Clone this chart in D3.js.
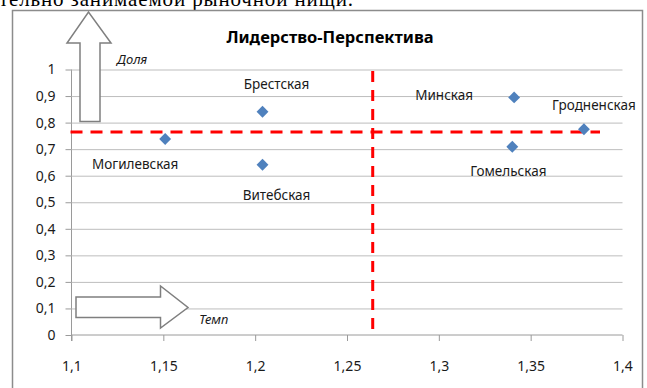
<!DOCTYPE html>
<html>
<head>
  <meta charset="UTF-8">
  <script src="https://cdnjs.cloudflare.com/ajax/libs/d3/7.8.5/d3.min.js"></script>
  <style>
    body { margin: 0; background: #fff; }
    svg text { font-family: "Noto Sans", "Liberation Sans", sans-serif; fill: #1a1a1a; }
  </style>
</head>
<body>
<script>
  // regions: Темп (x) and Доля (y)
  var regions = ["Могилевская", "Брестская", "Витебская", "Минская", "Гомельская", "Гродненская"];
  var tempVals = [1.151, 1.204, 1.204, 1.341, 1.340, 1.379];
  var shareVals = [0.738, 0.841, 0.641, 0.895, 0.709, 0.775];
  var xTicks = [1.1, 1.15, 1.2, 1.25, 1.3, 1.35, 1.4];
  var yTicks = [0, 0.1, 0.2, 0.3, 0.4, 0.5, 0.6, 0.7, 0.8, 0.9, 1];
  var avgTemp = 1.264, avgShare = 0.765;

  // label offsets relative to each point (dx, dy)
  var labelOff = [[-30, 25], [14, -27], [14, 30], [-70, -2], [-4, 25], [10, -24]];

  var W = 647, H = 388;
  var svg = d3.select("body").append("svg").attr("width", W).attr("height", H);

  // top text of the surrounding document, clipped
  svg.append("text")
    .attr("x", -1).attr("y", 6)
    .attr("textLength", 354)
    .style("font-family", "'Liberation Serif', serif")
    .style("font-size", "21px")
    .style("fill", "#000")
    .text("тельно занимаемой рыночной нищи.");

  // chart frame
  svg.append("rect")
    .attr("x", 12.5).attr("y", 10.5).attr("width", 630).attr("height", 400)
    .attr("fill", "#fff").attr("stroke", "#8c8c8c").attr("stroke-width", 1.5);

  var x = d3.scaleLinear().domain([1.1, 1.4]).range([71.5, 622.5]);
  var y = d3.scaleLinear().domain([0, 1]).range([335, 69.5]);
  var fmt = function(d) { return String(d).replace(".", ","); };

  // gridlines + y axis
  var yAxis = svg.append("g").attr("transform", "translate(" + x.range()[0] + ",0)")
    .call(d3.axisLeft(y).tickValues(yTicks).tickFormat(fmt).tickSize(6).tickPadding(10));
  yAxis.select(".domain").attr("stroke", "#9a9a9a").attr("d", "M0," + y(1) + "V" + (y(0) + 6));
  yAxis.selectAll(".tick line").attr("stroke", "#9a9a9a");
  yAxis.selectAll(".tick").filter(function(d) { return d > 0; }).append("line")
    .attr("x1", 0).attr("x2", x.range()[1] - x.range()[0]).attr("stroke", "#bdbdbd");
  yAxis.selectAll("text").style("font-size", "14px").style("font-family", "'Noto Sans', sans-serif").attr("fill", "#1a1a1a");

  var xAxis = svg.append("g").attr("transform", "translate(0," + y(0) + ")")
    .call(d3.axisBottom(x).tickValues(xTicks).tickFormat(fmt).tickSize(6).tickPadding(20));
  xAxis.select(".domain").attr("stroke", "#9a9a9a").attr("d", "M" + x.range()[0] + ",0H" + x.range()[1]);
  xAxis.selectAll(".tick line").attr("stroke", "#9a9a9a");
  xAxis.selectAll("text").style("font-size", "14px").style("font-family", "'Noto Sans', sans-serif").attr("fill", "#1a1a1a");

  // title
  svg.append("text").attr("x", 330).attr("y", 43).attr("text-anchor", "middle")
    .style("font-size", "16.5px").style("font-weight", "bold").style("fill", "#000")
    .text("Лидерство-Перспектива");

  // arrows
  var up = [[80, 121.5], [80, 43], [67, 43], [88.5, 12], [111, 43], [100, 43], [100, 121.5]];
  var right = [[76, 297], [160.5, 297], [160.5, 286], [188, 307.5], [160.5, 328], [160.5, 317.5], [76, 317.5]];
  [up, right].forEach(function(p) {
    svg.append("path").attr("d", d3.line()(p) + "Z")
      .attr("fill", "#fff").attr("stroke", "#7f7f7f").attr("stroke-width", 1.5);
  });
  svg.append("text").attr("x", 117).attr("y", 64).style("font-style", "italic").style("font-size", "13px").text("Доля");
  svg.append("text").attr("x", 199).attr("y", 324).style("font-style", "italic").style("font-size", "13px").text("Темп");

  // average lines
  svg.append("line")
    .attr("x1", x(1.1) - 1).attr("x2", 600).attr("y1", y(avgShare)).attr("y2", y(avgShare))
    .attr("stroke", "#ff0000").attr("stroke-width", 3).attr("stroke-dasharray", "12,8");
  svg.append("line")
    .attr("x1", x(avgTemp)).attr("x2", x(avgTemp)).attr("y1", 71).attr("y2", 333)
    .attr("stroke", "#ff0000").attr("stroke-width", 3).attr("stroke-dasharray", "11,8");

  // points
  var pts = regions.map(function(r, i) { return { name: r, t: tempVals[i], s: shareVals[i], off: labelOff[i] }; });
  svg.selectAll("path.pt").data(pts).enter().append("path").attr("class", "pt")
    .attr("d", d3.symbol().type(d3.symbolDiamond2).size(90))
    .attr("transform", function(d) { return "translate(" + x(d.t) + "," + y(d.s) + ")"; })
    .attr("fill", "#4f81bd");
  svg.selectAll("text.lbl").data(pts).enter().append("text").attr("class", "lbl")
    .attr("x", function(d) { return x(d.t) + d.off[0]; })
    .attr("y", function(d) { return y(d.s) + d.off[1]; })
    .attr("text-anchor", "middle").attr("dy", "0.35em")
    .style("font-size", "13.5px")
    .text(function(d) { return d.name; });
</script>
</body>
</html>
